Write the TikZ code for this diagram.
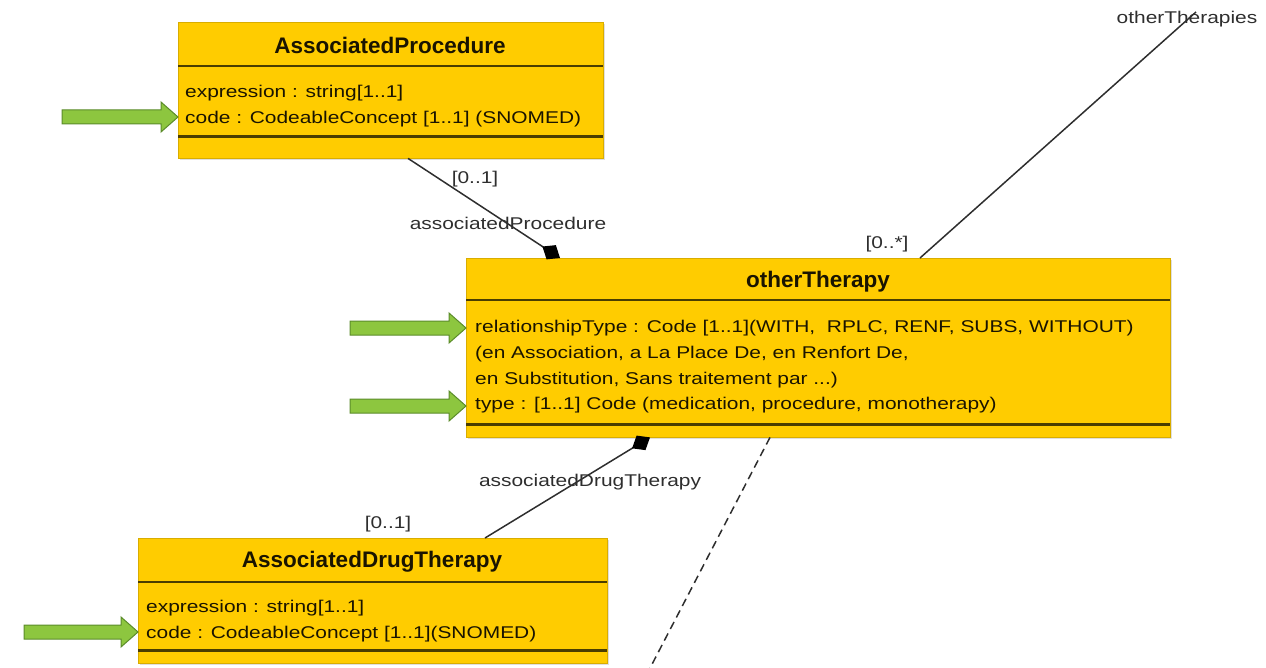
\documentclass[tikz,border=0pt]{standalone}
\usepackage{fontspec}
\setmainfont{Liberation Sans}
\newfontfamily\attrfont{Liberation Sans}[FakeStretch=1.23]
\usetikzlibrary{arrows.meta,shadows}
\definecolor{umlyellow}{HTML}{FFCC00}
\definecolor{umledge}{HTML}{D9AD00}
\definecolor{umlsep}{HTML}{4A3D00}
\definecolor{umltext}{HTML}{1A1400}
\definecolor{lbltext}{HTML}{2E2E2E}
\definecolor{gfill}{HTML}{8DC63F}
\definecolor{gedge}{HTML}{5B8C2A}

\begin{document}
\begin{tikzpicture}[x=1pt,y=-1pt,
    umlbox/.style={rectangle, draw=umledge, fill=umlyellow, anchor=north west, inner sep=0pt,
      drop shadow={shadow xshift=2pt, shadow yshift=-2pt, opacity=.25}},
    title/.style={font=\bfseries\fontsize{22.5}{27}\selectfont, text=umltext},
    attr/.style={font=\attrfont\fontsize{17}{25.6}\selectfont, text=umltext, align=left, anchor=west, inner sep=0pt},
    lbl/.style={font=\attrfont\fontsize{17}{19}\selectfont, text=lbltext, inner sep=0pt},
    sepline/.style={umlsep, line width=2.5pt},
    assoc/.style={lbltext, line width=1.5pt},
    comp/.style={assoc, -{Diamond[length=21pt,width=17pt,fill=black,color=black]}},
    pics/garrow/.style={code={
      \draw[fill=gfill, draw=gedge, line width=1pt, line join=miter]
        (0,0) -- (-17,-15) -- (-17,-7) -- (-#1,-7) -- (-#1,7) -- (-17,7) -- (-17,15) -- cycle;}}]
    \useasboundingbox (0,0) rectangle (1266,668);

    % classes
    \node[umlbox, minimum width=425pt, minimum height=136pt] (ap) at (178,22) {};
    \node[umlbox, minimum width=704pt, minimum height=179pt] (ot) at (466,258) {};
    \node[umlbox, minimum width=469pt, minimum height=125pt] (adt) at (138,538) {};

    \draw[sepline] ([yshift=-44pt]ap.north west) -- ([yshift=-44pt]ap.north east);
    \draw[sepline] ([yshift=22pt]ap.south west) -- ([yshift=22pt]ap.south east);
    \draw[sepline] ([yshift=-42pt]ot.north west) -- ([yshift=-42pt]ot.north east);
    \draw[sepline] ([yshift=13pt]ot.south west) -- ([yshift=13pt]ot.south east);
    \draw[sepline] ([yshift=-44pt]adt.north west) -- ([yshift=-44pt]adt.north east);
    \draw[sepline] ([yshift=13pt]adt.south west) -- ([yshift=13pt]adt.south east);

    \node[title] (ap-name) at (390,45) {AssociatedProcedure};
    \node[title] (ot-name) at (818,282) {otherTherapy};
    \node[title] (adt-name) at (372,562) {AssociatedDrugTherapy};

    \node[attr] (ap-attr) at (185,106) {expression : string[1..1]\\
      code : CodeableConcept [1..1] (SNOMED)};
    \node[attr] (ot-attr) at (475,367) {relationshipType : Code [1..1](WITH,\ \ RPLC, RENF, SUBS, WITHOUT)\\
      (en Association, a La Place De, en Renfort De,\\
      en Substitution, Sans traitement par ...)\\
      type : [1..1] Code (medication, procedure, monotherapy)};
    \node[attr] (adt-attr) at (146,621) {expression : string[1..1]\\
      code : CodeableConcept [1..1](SNOMED)};

    % associations
    \coordinate (ot-far) at (1196,12);
    \coordinate (dash-end) at (648,672);
    \draw[comp] ([xshift=230pt]ap.south west) -- ([xshift=94pt]ot.north west);
    \draw[comp] ([xshift=347pt]adt.north west) -- ([xshift=184pt]ot.south west);
    \draw[assoc] ([xshift=454pt]ot.north west) -- (ot-far);
    \draw[assoc, dash pattern=on 8pt off 5pt] ([xshift=304pt]ot.south west) -- (dash-end);

    \node[lbl] (ap-mult) at (475,179) {[0..1]};
    \node[lbl] (ap-role) at (508,223) {associatedProcedure};
    \node[lbl] (ot-mult) at (887,244) {[0..*]};
    \node[lbl] (ot-role) at (1187,19) {otherTherapies};
    \node[lbl] (adt-role) at (590,482) {associatedDrugTherapy};
    \node[lbl] (adt-mult) at (388,524) {[0..1]};

    % green pointers
    \pic at ([yshift=-95pt]ap.north west) {garrow=116};
    \pic at ([yshift=-70pt]ot.north west) {garrow=116};
    \pic at ([yshift=-148pt]ot.north west) {garrow=116};
    \pic at ([yshift=-94pt]adt.north west) {garrow=114};
\end{tikzpicture}
\end{document}
